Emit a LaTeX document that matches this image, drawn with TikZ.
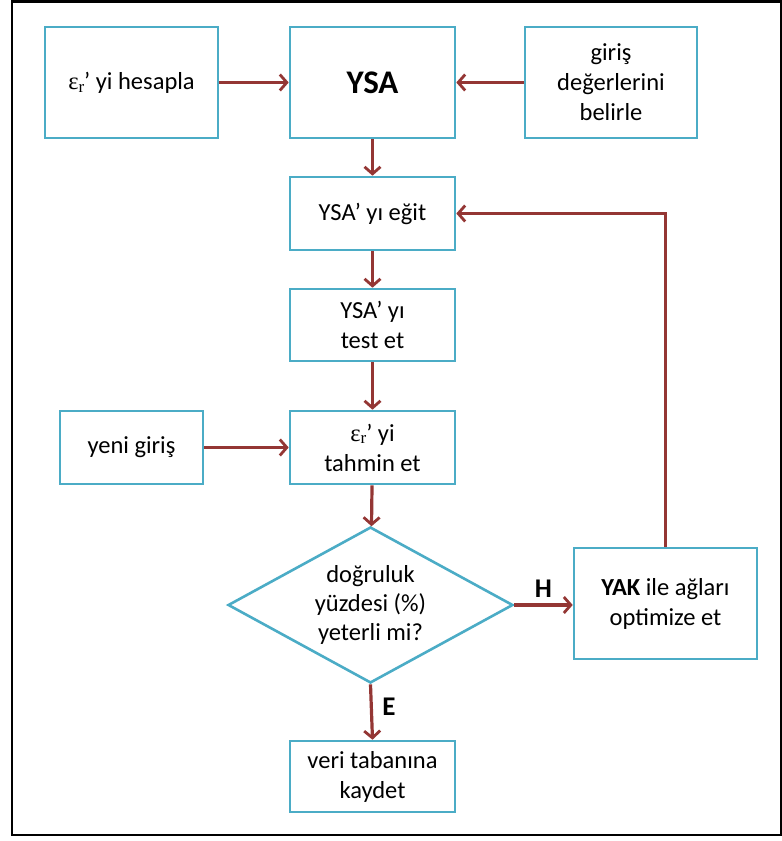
\documentclass[tikz,border=0pt]{standalone}
\usepackage{fontspec}
\setmainfont{Carlito}
\newfontfamily\serifgreek{Liberation Serif}
\definecolor{boxcyan}{RGB}{75, 172, 198}
\definecolor{arrowred}{RGB}{148, 54, 52}
\usetikzlibrary{
    shapes.geometric,
    arrows.meta,
    positioning,
    calc
}
\newcommand{\epsr}{{\serifgreek ε}\raisebox{-0.25ex}{\serifgreek\fontsize{17}{17}\selectfont r}’}

\begin{document}
\begin{tikzpicture}[x=1pt, y=-1pt,
    flowbox/.style={draw=boxcyan, line width=2.6pt, fill=white, align=center,
                    inner sep=2pt, font=\fontsize{24.5}{30}\selectfont},
    decision/.style={diamond, aspect=1.83, draw=boxcyan, line width=2.6pt, fill=white, align=center,
                     minimum width=285pt, minimum height=156pt, inner sep=-6pt,
                     font=\fontsize{24.5}{29}\selectfont},
    flowarrow/.style={draw=arrowred, line width=3.2pt,
                      -{Straight Barb[length=7pt, width=16pt, line width=2.8pt]}},
    answer/.style={font=\fontsize{27}{30}\selectfont\bfseries}]
    \useasboundingbox (0,0) rectangle (782,841);
    % outer frame
    \draw[line width=2.5pt] (12,1.5) rectangle (781,835);

    % top row
    \node[flowbox, minimum width=173pt, minimum height=111pt] (hesapla) at (131.5,82.5) {\epsr{} yi hesapla};
    \node[flowbox, minimum width=165pt, minimum height=111pt, font=\fontsize{33}{36}\selectfont\bfseries] (ysa) at (372.5,82.5) {YSA};
    \node[flowbox, minimum width=172pt, minimum height=111pt] (giris) at (611,82.5) {giriş\\değerlerini\\belirle};

    % training and test
    \node[flowbox, minimum width=165pt, minimum height=73pt] (egit) at (372.5,213.5) {YSA’ yı eğit};
    \node[flowbox, minimum width=165pt, minimum height=72pt] (test) at (372.5,325) {YSA’ yı\\test et};

    % estimation
    \node[flowbox, minimum width=165pt, minimum height=73pt] (tahmin) at (372.5,447.5) {\epsr{} yi\\tahmin et};
    \node[flowbox, minimum width=143pt, minimum height=73pt] (yeni) at (131.5,447.5) {yeni giriş};

    % decision
    \node[decision] (karar) at (370.5,605) {doğruluk\\yüzdesi (\%)\\yeterli mi?};
    \node[flowbox, minimum width=183pt, minimum height=111pt] (yak) at (665.5,603.5) {\textbf{YAK} ile ağları\\optimize et};
    \node[flowbox, minimum width=165pt, minimum height=71pt] (kaydet) at (372.5,776.5) {veri tabanına\\kaydet};

    % arrows
    \draw[flowarrow] (hesapla) -- (ysa);
    \draw[flowarrow] (giris) -- (ysa);
    \draw[flowarrow] (ysa) -- (egit);
    \draw[flowarrow] (egit) -- (test);
    \draw[flowarrow] (test) -- (tahmin);
    \draw[flowarrow] (yeni) -- (tahmin);
    \draw[flowarrow] (tahmin) -- (karar);
    \draw[flowarrow] (karar.east) -- (yak.west |- karar.east)
        node[answer, midway, above=3pt] (hayir) {H};
    \draw[flowarrow] (karar.south) -- (kaydet.north)
        node[answer, midway, right=6pt, yshift=5pt] (evet) {E};
    \draw[flowarrow] (yak.north) |- (egit.east);
\end{tikzpicture}
\end{document}
